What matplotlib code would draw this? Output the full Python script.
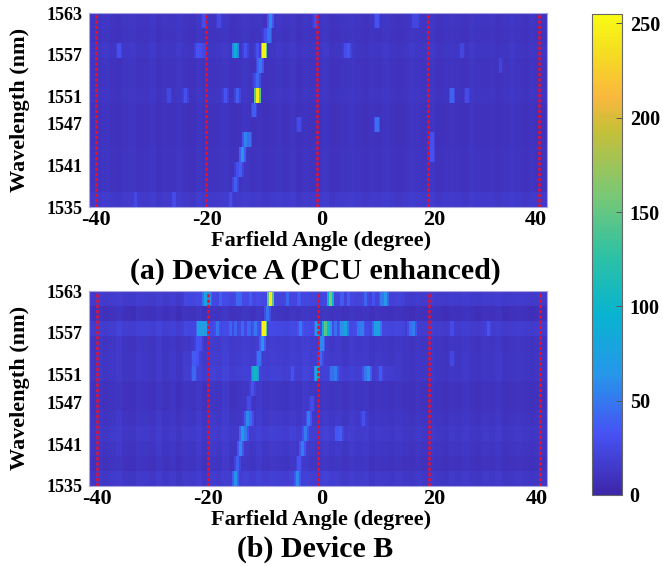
import matplotlib
matplotlib.use('Agg')
import matplotlib.pyplot as plt
from matplotlib.colors import LinearSegmentedColormap
import numpy as np

plt.rcParams['font.family'] = ['Liberation Serif', 'DejaVu Serif']
plt.rcParams['font.weight'] = 'bold'
plt.rcParams['axes.labelweight'] = 'bold'

W, H = 663, 566

wl_ticks = [1535, 1541, 1547, 1551, 1557, 1563]
angle_labels = ['-40', '-20', '0', '20', '40']
guide_angles = [-40, -20, 0, 20, 40]
cbar_ticks = [0, 50, 100, 150, 200, 250]

# level of the quiet part of each row, top row (1563) first
base_a = [10, 9, 11, 9, 9, 10, 8, 8, 8, 9, 9, 9, 13]
base_b = [14, 7, 15, 10, 11, 11, 8, 8, 10, 12, 10, 8, 12]

# rows of device B that are lifted over a wide angle range, (row, from, to, level)
bands_b = [(0, -24, -8, 21), (0, -8, 16, 18), (2, -24, 16, 21), (2, -36, -24, 17), (3, -23, 1, 12),
           (4, -24, 0, 13), (5, -24, 14, 15), (9, -14, 6, 14), (12, -16, 4, 14)]

# bright spots per row, (angle, value)
peaks_a = [
    [(-8.7, 58), (-20.6, 28), (-17.8, 26), (-0.5, 28), (10.7, 32), (17.4, 23), (18.0, 23)],
    [(-9.0, 48), (-9.6, 30)],
    [(-9.7, 250), (-15.0, 88), (-21.7, 32), (-21.2, 30), (-13.0, 32), (-36.0, 30), (-11.0, 30), (-20.5, 25), (5.6, 34), (5.0, 28), (26.0, 24)],
    [(-10.3, 52), (-10.8, 40), (33.0, 21)],
    [(-10.9, 42), (-11.4, 28)],
    [(-11.0, 245), (-14.5, 38), (-16.6, 32), (-23.8, 30), (-27.0, 24), (24.1, 40), (26.9, 27)],
    [(-11.7, 38)],
    [(-3.4, 27), (10.8, 46)],
    [(-13.1, 55), (-12.6, 45), (20.7, 30)],
    [(-13.7, 64), (20.7, 32)],
    [(-14.0, 38), (-14.5, 30)],
    [(-14.8, 38)],
    [(-15.7, 28), (-26.0, 27), (-33.0, 26)],
]
peaks_b = [
    [(-8.8, 245), (-20.4, 78), (-19.8, 60), (-17.7, 38), (-14.7, 42), (-14.1, 40), (-12.3, 36), (-5.7, 40), (-3.6, 35), (2.1, 160), (4.2, 36), (5.4, 36), (8.4, 40), (10.0, 32), (12.0, 66), (11.5, 50)],
    [(-9.3, 47)],
    [(-9.9, 250), (-21.6, 72), (-21.0, 72), (-20.4, 66), (-18.3, 48), (-16.0, 40), (-15.0, 40), (-14.0, 42), (-12.6, 40), (-11.4, 50), (-3.3, 52), (-0.5, 68), (1.2, 145), (1.8, 100), (3.0, 46), (4.8, 78), (4.2, 60), (7.8, 52), (7.2, 48), (10.9, 82), (10.3, 70), (17.2, 52), (16.6, 45), (24.0, 27), (30.6, 32)],
    [(-10.3, 62), (0.6, 58), (-21.9, 32), (-21.3, 30)],
    [(-11.0, 48), (-22.5, 36), (-22.0, 32), (0.2, 42), (24.0, 24)],
    [(-11.4, 105), (-11.9, 80), (-22.6, 42), (-0.4, 88), (3.0, 52), (2.4, 45), (9.0, 62), (8.5, 50), (11.0, 36), (-5.0, 32)],
    [(-12.0, 32)],
    [(-12.6, 27), (-1.2, 27)],
    [(-13.1, 58), (-12.5, 45), (-1.8, 52), (8.0, 30)],
    [(-13.8, 68), (-13.2, 50), (-2.4, 52), (3.8, 38), (3.2, 34)],
    [(-14.1, 58), (-3.0, 52)],
    [(-14.7, 38), (-3.6, 32)],
    [(-15.1, 62), (-4.0, 58)],
]

# faint vertical streaks, left to right
streak_a = [2, 1, 3, 1, 0, 2, 3, 1, 1, 3, 0, 2, 1, 3, 1, 0, 3, 1, 1, 2, 3, 0, 1, 3, 1, 2, 0, 1, 3, 1, 3, 0, 2, 1,
            1, 3, 0, 1, 2, 3, 1, 0, 2, 1, 3, 1, 0, 1, 3, 2, 1, 3, 0, 1, 2, 1, 0, 3, 1, 1, 2, 0, 1, 3, 1, 0, 2, 1, 1]
streak_b = [1, 3, 1, 2, 4, 1, 0, 3, 2, 1, 4, 1, 3, 0, 3, 2, 5, 1, 4, 3, 6, 2, 3, 5, 3, 6, 3, 5, 4, 3, 5, 3, 6, 4,
            3, 5, 3, 4, 2, 5, 3, 4, 1, 3, 2, 1, 3, 1, 0, 2, 1, 3, 1, 0, 2, 1, 3, 1, 0, 2, 1, 3, 0, 1, 2, 1, 0, 1, 1]

parula = LinearSegmentedColormap.from_list('parula_like', [
    (0.000, (0.242, 0.150, 0.660)),
    (0.125, (0.275, 0.320, 0.955)),
    (0.250, (0.155, 0.590, 0.920)),
    (0.375, (0.030, 0.705, 0.815)),
    (0.500, (0.180, 0.760, 0.640)),
    (0.625, (0.480, 0.785, 0.460)),
    (0.760, (0.780, 0.750, 0.220)),
    (0.830, (0.980, 0.720, 0.240)),
    (0.930, (0.960, 0.880, 0.120)),
    (1.000, (0.977, 0.984, 0.080)),
])


def px_axes(left, top, right, bottom):
    return fig.add_axes([left / W, 1 - bottom / H, (right - left) / W, (bottom - top) / H])


def build(base, peaks, streak, xlim, bands=(), ncol=275):
    z = np.zeros((len(base), ncol))
    dx = (xlim[1] - xlim[0]) / ncol
    for r in range(len(base)):
        for c in range(ncol):
            z[r, c] = base[r]
    for r, lo, hi, level in bands:
        z[r, int((lo - xlim[0]) / dx):int((hi - xlim[0]) / dx)] = level
    for r in range(len(base)):
        for c in range(ncol):
            z[r, c] += streak[c * len(streak) // ncol]
        for angle, value in peaks[r]:
            c = int((angle - xlim[0]) / dx)
            # the shot is soft: two full columns and a weaker one each side
            z[r, c - 1] = max(z[r, c - 1], value * 0.6)
            z[r, c] = max(z[r, c], value)
            z[r, c + 1] = max(z[r, c + 1], value)
            z[r, c + 2] = max(z[r, c + 2], value * 0.6)
    return z


def panel(box, base, peaks, streak, xlim, label_pos, title, title_y, xlabel_y, bands=()):
    ax = px_axes(*box)
    z = build(base, peaks, streak, xlim, bands)
    im = ax.imshow(z, cmap=parula, vmin=0, vmax=255, aspect='auto',
                   extent=[xlim[0], xlim[1], 1535, 1563], interpolation='nearest')
    for a in guide_angles:
        ax.axvline(a, color='#e8112d', lw=1.8, ls=(0, (1.3, 0.8)))
    ax.set_xlim(xlim)
    ax.set_ylim(1535, 1563)
    ax.set_xticks(label_pos)
    ax.set_xticklabels(angle_labels, fontsize=16)
    ax.set_yticks(wl_ticks)
    ax.set_yticklabels(wl_ticks, fontsize=13)
    ax.tick_params(length=0)
    ax.tick_params(axis='x', pad=2)
    ax.tick_params(axis='y', pad=4.5)
    ax.xaxis.get_majorticklabels()[-1].set_clip_on(False)
    for s in ax.spines.values():
        s.set_color('#a9a6e0')
        s.set_linewidth(0.8)
    fig.text(20 / W, 1 - (box[1] + 97) / H, 'Wavelength (nm)', fontsize=16, rotation=90,
             ha='center', va='center')
    fig.text(321 / W, 1 - xlabel_y / H, 'Farfield Angle (degree)', fontsize=16,
             ha='center', va='center')
    fig.text(315 / W, 1 - title_y / H, title, fontsize=21.5, ha='center', va='center')
    return im


fig = plt.figure(figsize=(W / 100, H / 100), dpi=100)

im = panel((89, 13, 547, 207), base_a, peaks_a, streak_a, (-41.2, 41.5),
           [-39.9, -19.9, 0.8, 21.2, 39.5], '(a) Device A (PCU enhanced)', 271, 241)
panel((89, 291, 547, 486), base_b, peaks_b, streak_b, (-41.4, 41.3),
      [-40.0, -19.9, 0.6, 21.0, 39.5], '(b) Device B', 549, 520, bands_b)

cax = px_axes(592, 14, 622, 495)
cb = fig.colorbar(im, cax=cax)
cb.set_ticks(cbar_ticks)
cb.ax.tick_params(labelsize=14.5, direction='in', length=4, width=0.7, color='#555555', pad=5.5)
cb.outline.set_edgecolor('#666666')
cb.outline.set_linewidth(0.8)

fig.savefig('out.png', dpi=100)
